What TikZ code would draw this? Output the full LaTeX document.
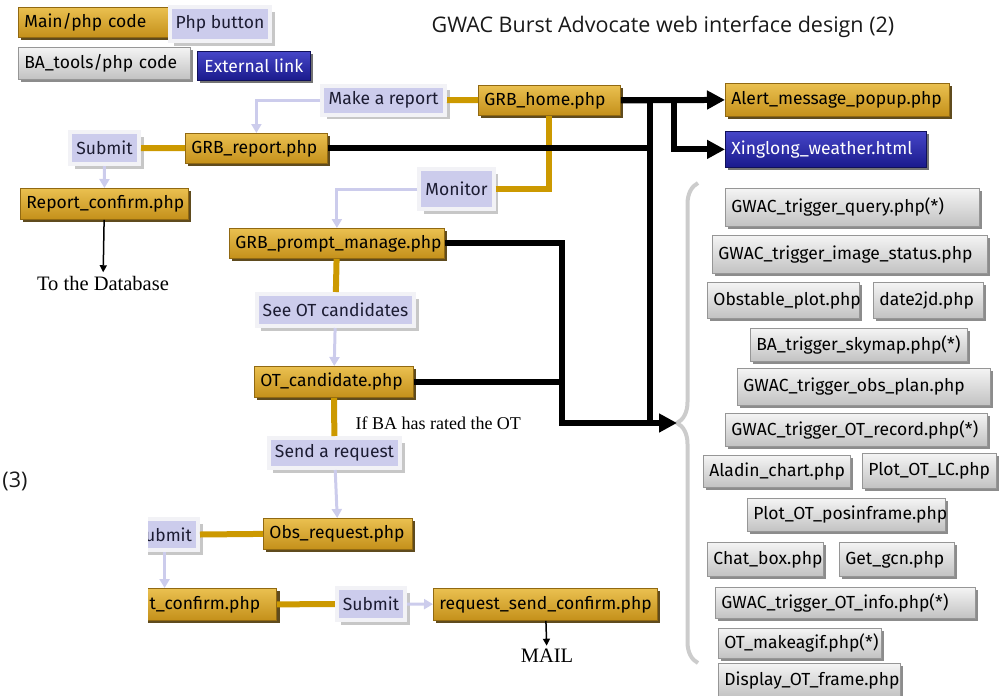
\documentclass[tikz,border=0pt]{standalone}
\usepackage{fontspec}
\setmainfont{Liberation Serif}
\newfontfamily\boxfont{Fira Sans}
\newfontfamily\titlefont{Open Sans}
\usepackage{tikz}
\usetikzlibrary{arrows.meta,positioning,calc,shadows,decorations.pathreplacing}
\definecolor{goldtop}{RGB}{234,192,80}
\definecolor{goldbot}{RGB}{196,144,26}
\definecolor{golddark}{RGB}{145,105,18}
\definecolor{goldshadow}{RGB}{95,75,30}
\definecolor{goldline}{RGB}{204,153,0}
\definecolor{graytop}{RGB}{244,244,244}
\definecolor{graybot}{RGB}{194,194,194}
\definecolor{grayedge}{RGB}{150,150,150}
\definecolor{bluetop}{RGB}{70,70,200}
\definecolor{bluebot}{RGB}{26,26,140}
\definecolor{blueedge}{RGB}{16,16,90}
\definecolor{btnfill}{RGB}{204,204,236}
\definecolor{btnframe}{RGB}{242,242,246}
\definecolor{btntext}{RGB}{28,28,50}
\definecolor{bracegray}{RGB}{204,204,204}

\begin{document}
\begin{tikzpicture}[
        x=1pt, y=-1pt,
        every node/.style={font=\boxfont\fontsize{17.5}{21}\selectfont},
        mainbox/.style={rectangle, draw=golddark, line width=0.8pt, top color=goldtop, bottom color=goldbot,
            text=black, inner xsep=6pt, inner ysep=0pt, anchor=north west,
            drop shadow={shadow xshift=3pt, shadow yshift=-3pt, fill=goldshadow, opacity=1}},
        toolbox/.style={mainbox, draw=grayedge, top color=graytop, bottom color=graybot,
            drop shadow={shadow xshift=3pt, shadow yshift=-3pt, fill=black!45, opacity=1}},
        extbox/.style={mainbox, draw=blueedge, top color=bluetop, bottom color=bluebot, text=white,
            drop shadow={shadow xshift=3pt, shadow yshift=-3pt, fill=black!55, opacity=1}},
        button/.style={rectangle, draw=btnframe, line width=4pt, fill=btnfill, text=btntext,
            inner xsep=6pt, inner ysep=0pt,
            drop shadow={shadow xshift=4.5pt, shadow yshift=-4.5pt, fill=black!22, opacity=1}},
        goldlink/.style={draw=goldline, line width=6pt},
        clicklink/.style={draw=btnfill, line width=3pt, -{Triangle[length=9pt, width=10pt]}},
        calllink/.style={line width=6pt},
        callarrow/.style={calllink, -{Triangle[length=18pt, width=18pt]}},
        textarrow/.style={line width=1.5pt, -{Triangle[length=7pt, width=7pt]}},
        note/.style={font=\rmfamily\fontsize{18}{21}\selectfont},
        bignote/.style={font=\rmfamily\fontsize{20.5}{24}\selectfont}
    ]
        \useasboundingbox (0,0) rectangle (999,696);
        \clip (0,0) rectangle (999,696);

        % Legend
        \node[mainbox, text width=138pt, minimum height=30pt] (legmain) at (18,7) {Main/php code};
        \node[button, minimum width=98pt, minimum height=34pt] (legbtn) at (220,24) {Php button};
        \node[toolbox, text width=160pt, minimum height=32pt] (legtools) at (18,47) {BA\_tools/php code};
        \node[extbox, minimum width=113pt, minimum height=29pt] (legext) at (197,51) {External link};

        % Title
        \node[font=\titlefont\fontsize{21.5}{25}\selectfont, text=black!90] (title) at (663,27)
            {GWAC Burst Advocate web interface design (2)};
        \node[font=\titlefont\fontsize{21.5}{25}\selectfont, text=black!90, anchor=east] (three) at (31,481) {(3)};

        % Home page and its report branch
        \node[mainbox, text width=130pt, minimum height=30pt] (home) at (478,85) {GRB\_home.php};
        \node[button, minimum width=123pt, minimum height=29pt] (bmake) at (383.5,100) {Make a report};
        \node[mainbox, text width=130pt, minimum height=30pt] (report) at (185,133) {GRB\_report.php};
        \node[button, minimum width=69pt, minimum height=32pt] (bsub1) at (104.5,148) {Submit};
        \node[mainbox, text width=156pt, minimum height=31pt] (repconf) at (20,188) {Report\_confirm.php};
        \node[bignote] (db) at (103,283) {To the Database};

        % Monitor branch
        \node[button, minimum width=73pt, minimum height=40pt] (bmon) at (456.5,189) {Monitor};
        \node[mainbox, text width=203pt, minimum height=30pt] (prompt) at (229,228) {GRB\_prompt\_manage.php};
        \node[button, minimum width=155pt, minimum height=32pt] (bsee) at (335.5,310) {See OT candidates};
        \node[mainbox, text width=147pt, minimum height=31pt] (otcand) at (254,366) {OT\_candidate.php};
        \node[note, anchor=west] (rated) at (352,423) {If BA has rated the OT};
        \node[button, minimum width=129pt, minimum height=30pt] (bsend) at (334.5,453) {Send a request};
        \node[mainbox, text width=137pt, minimum height=31pt] (obsreq) at (263,518) {Obs\_request.php};

        % Cut at the left edge
        \begin{scope}
            \clip (148,500) rectangle (320,640);
            \node[button, minimum width=58pt, minimum height=31pt, anchor=east] (bsub2) at (200,534.5) {ubmit};
            \node[mainbox, text width=121pt, minimum height=32pt, anchor=north east] (tconf) at (277,588) {t\_confirm.php};
        \end{scope}
        \node[button, minimum width=68pt, minimum height=32pt] (bsub3) at (371,604) {Submit};
        \node[mainbox, text width=212pt, minimum height=32pt] (rsend) at (433,588) {request\_send\_confirm.php};
        \node[bignote] (mail) at (547,656) {MAIL};

        % Targets of the home page
        \node[mainbox, text width=212pt, minimum height=33pt] (alert) at (725,83) {Alert\_message\_popup.php};
        \node[extbox, text width=189pt, minimum height=36pt] (xing) at (725,131) {Xinglong\_weather.html};

        % BA tools
        \node[toolbox, text width=242pt, minimum height=38pt] (gquery) at (725,188) {GWAC\_trigger\_query.php(*)};
        \node[toolbox, text width=263pt, minimum height=38pt] (gimage) at (712,235) {GWAC\_trigger\_image\_status.php};
        \node[toolbox, text width=140pt, minimum height=36pt] (gobst) at (707,282) {Obstable\_plot.php};
        \node[toolbox, text width=98pt, minimum height=36pt] (gdate) at (873,282) {date2jd.php};
        \node[toolbox, text width=205pt, minimum height=33pt] (gsky) at (750,328) {BA\_trigger\_skymap.php(*)};
        \node[toolbox, text width=241pt, minimum height=37pt] (gplan) at (737,368) {GWAC\_trigger\_obs\_plan.php};
        \node[toolbox, text width=250pt, minimum height=33pt] (grecord) at (725,413) {GWAC\_trigger\_OT\_record.php(*)};
        \node[toolbox, text width=135pt, minimum height=32pt] (galadin) at (703,455) {Aladin\_chart.php};
        \node[toolbox, text width=122pt, minimum height=35pt] (glc) at (862,453) {Plot\_OT\_LC.php};
        \node[toolbox, text width=186pt, minimum height=33pt] (gpos) at (747,498) {Plot\_OT\_posinframe.php};
        \node[toolbox, text width=104pt, minimum height=34pt] (gchat) at (707,542) {Chat\_box.php};
        \node[toolbox, text width=103pt, minimum height=34pt] (ggcn) at (839,542) {Get\_gcn.php};
        \node[toolbox, text width=248pt, minimum height=31pt] (ginfo) at (715,587) {GWAC\_trigger\_OT\_info.php(*)};
        \node[toolbox, text width=151pt, minimum height=30pt] (gagif) at (718,628) {OT\_makeagif.php(*)};
        \node[toolbox, text width=170pt, minimum height=34pt] (gframe) at (718,663) {Display\_OT\_frame.php};

        % Brace round the tools
        \draw[bracegray, line width=4pt, decorate, decoration={brace, amplitude=21pt}] (698,663) -- (698,183);
        \coordinate (tip) at (677,423);
        \coordinate (elbow) at (562,423);
        \coordinate (trunk) at (650,100);

        % Page links (gold)
        \draw[goldlink] (bmake) -- (home);
        \draw[goldlink] (bsub1) -- (report);
        \draw[goldlink] (bmon.east) -| (home.south);
        \draw[goldlink] (prompt) -- (bsee);
        \draw[goldlink] (otcand) -- (bsend);
        \draw[goldlink] (bsub2.east) -- (obsreq.west);
        \draw[goldlink] (tconf.east) -- (bsub3.west);

        % Button clicks
        \draw[clicklink] (bmake.west) -| (report.north);
        \draw[clicklink] (bsub1) -- (repconf);
        \draw[clicklink] (bmon.west) -| (prompt.north);
        \draw[clicklink] (bsee) -- (otcand);
        \draw[clicklink] (bsend) -- (obsreq);
        \draw[clicklink] ([xshift=-4pt]bsub2.south) -- ([xshift=-4pt]bsub2.south |- tconf.north);
        \draw[clicklink] (bsub3) -- (rsend);

        % Calls (black)
        \draw[callarrow] (home.east) -- (alert.west);
        \draw[callarrow] (home.east) -- ++(53,0) |- (xing.west);
        \draw[calllink] (trunk) -- (trunk |- tip);
        \draw[calllink] (report.east) -- (report.east -| trunk);
        \draw[callarrow] (prompt.east) -| (elbow) -- (tip);
        \draw[calllink] (otcand.east) -- (otcand.east -| elbow);

        % Outputs
        \draw[textarrow] (repconf) -- (db);
        \draw[textarrow] (rsend) -- (mail);
    \end{tikzpicture}
\end{document}
